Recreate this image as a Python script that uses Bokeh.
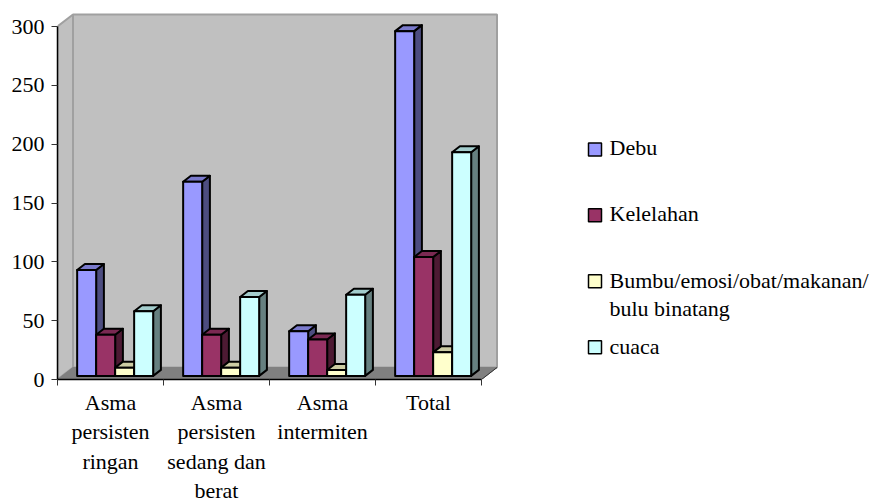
from bokeh.core.properties import value
from bokeh.embed import file_html
from bokeh.models import FixedTicker, Range1d
from bokeh.plotting import figure
from bokeh.resources import INLINE

categories = ["Asma\npersisten\nringan", "Asma\npersisten\nsedang dan\nberat", "Asma\nintermiten", "Total"]
series_names = ["Debu", "Kelelahan", "Bumbu/emosi/obat/makanan/\nbulu binatang", "cuaca"]
debu = [90, 165, 38, 293]
kelelahan = [35, 35, 31, 101]
bumbu = [7, 7, 5, 20]
cuaca = [55, 67, 69, 190]
series_values = [debu, kelelahan, bumbu, cuaca]
front_colors = ["#9999FF", "#993366", "#FFFFCC", "#CCFFFF"]
top_colors = ["#7A7ACC", "#7A2952", "#CCCCA3", "#A3CCCC"]
side_colors = ["#4D4D80", "#4D1A33", "#808066", "#668080"]
y_ticks = [0, 50, 100, 150, 200, 250, 300]

FONT = "Liberation Serif"
FONT_SIZE = "22px"

# Plot frame layout, in pixels
LEFT, FRAME_W, FRAME_H, BOTTOM = 57, 817, 379, 123
PX_X = 106.0          # pixels per category
PX_Y = 353 / 300      # pixels per value unit
DEPTH_PX_X, DEPTH_PX_Y = 15.5, 12.0

depth_x = DEPTH_PX_X / PX_X
depth_y = DEPTH_PX_Y / PX_Y


def project(x, v, d):
    """Oblique projection of (category position, value, depth 0..1) to data space."""
    return x + d * depth_x, v + d * depth_y


def poly(points):
    pts = [project(*pt) for pt in points]
    return [a for a, _ in pts], [b for _, b in pts]


def px_x(px):
    return (px - LEFT) / PX_X


def px_y(py):
    return (FRAME_H - py) / PX_Y


p = figure(
    frame_width=FRAME_W, frame_height=FRAME_H, width=874, height=502,
    min_border_left=LEFT, min_border_right=0, min_border_top=0, min_border_bottom=BOTTOM,
    x_range=Range1d(0, FRAME_W / PX_X), y_range=Range1d(0, FRAME_H / PX_Y),
    output_backend="svg", toolbar_location=None, tools="",
    background_fill_color="white", border_fill_color="white", outline_line_color=None,
)
p.grid.visible = False

# Chart box: left wall, back wall and floor
n_cat = len(categories)
top = y_ticks[-1]
WALL_LINE = "#A0A0A0"
xs, ys = poly([(0, 0, 0), (0, top, 0), (0, top, 1), (0, 0, 1)])
p.patch(xs, ys, fill_color="#C0C0C0", line_color=WALL_LINE, line_width=2)
xs, ys = poly([(0, 0, 1), (0, top, 1), (n_cat, top, 1), (n_cat, 0, 1)])
p.patch(xs, ys, fill_color="#C0C0C0", line_color=WALL_LINE, line_width=2)
xs, ys = poly([(0, 0, 0), (0, 0, 1), (n_cat, 0, 1), (n_cat, 0, 0)])
p.patch(xs, ys, fill_color="#808080", line_color="#808080", line_width=1)
xs, ys = poly([(n_cat, 0, 0), (n_cat, 0, 1)])
p.line(xs, ys, line_color="#333333", line_width=1)

# Bars: each is a front face plus a shaded side and top
BAR_W = 19.0 / PX_X
GAP = (1 - BAR_W * len(series_values)) / 2
D0, D1 = 0.3, 0.8
EDGE = dict(line_color="black", line_width=2, line_join="round")
for cat in range(n_cat):
    for s, values in enumerate(series_values):
        v = values[cat]
        x0 = cat + GAP + s * BAR_W
        x1 = x0 + BAR_W
        xs, ys = poly([(x1, 0, D0), (x1, v, D0), (x1, v, D1), (x1, 0, D1)])
        p.patch(xs, ys, fill_color=side_colors[s], **EDGE)
        xs, ys = poly([(x0, v, D0), (x0, v, D1), (x1, v, D1), (x1, v, D0)])
        p.patch(xs, ys, fill_color=top_colors[s], **EDGE)
        xs, ys = poly([(x0, 0, D0), (x0, v, D0), (x1, v, D0), (x1, 0, D0)])
        p.patch(xs, ys, fill_color=front_colors[s], **EDGE)

# Value axis
ya = p.yaxis[0]
ya.ticker = FixedTicker(ticks=y_ticks)
ya.bounds = (0, 300)
ya.axis_line_color = "black"
ya.axis_line_width = 1.5
ya.major_tick_line_color = "#333333"
ya.major_tick_in = 0
ya.major_tick_out = 6
ya.minor_tick_line_color = None
ya.major_label_standoff = 7
ya.major_label_text_font = FONT
ya.major_label_text_font_size = FONT_SIZE
ya.major_label_text_color = "black"

# Category axis: ticks between groups, labels centred on each group
xa = p.xaxis[0]
centers = [i + 0.5 for i in range(n_cat)]
xa.ticker = FixedTicker(ticks=centers, minor_ticks=list(range(n_cat + 1)))
xa.major_label_overrides = dict(zip(centers, categories))
xa.bounds = (0, n_cat)
xa.axis_line_color = "black"
xa.axis_line_width = 1.5
xa.major_tick_line_color = None
xa.minor_tick_line_color = "#333333"
xa.minor_tick_in = 0
xa.minor_tick_out = 6
xa.major_label_standoff = 4
xa.major_label_orientation = "horizontal"
xa.major_label_text_font = FONT
xa.major_label_text_font_size = FONT_SIZE
xa.major_label_text_color = "black"
xa.major_label_text_line_height = 1.18

# Legend column to the right of the chart
legend_swatch_py = [149, 214.7, 280.7, 346.7]
legend_text_py = [147, 213, 294, 346]
p.scatter([px_x(594.5)] * 4, [px_y(v) for v in legend_swatch_py], marker="square", size=13,
          fill_color=front_colors, line_color="black", line_width=1.5)
p.text([px_x(609)] * 4, [px_y(v) for v in legend_text_py], text=series_names,
       text_font=value(FONT), text_font_size=value(FONT_SIZE), text_color="black",
       text_baseline="middle", text_align="left", text_line_height=1.1)

open("out.html", "w").write(file_html(p, INLINE))
